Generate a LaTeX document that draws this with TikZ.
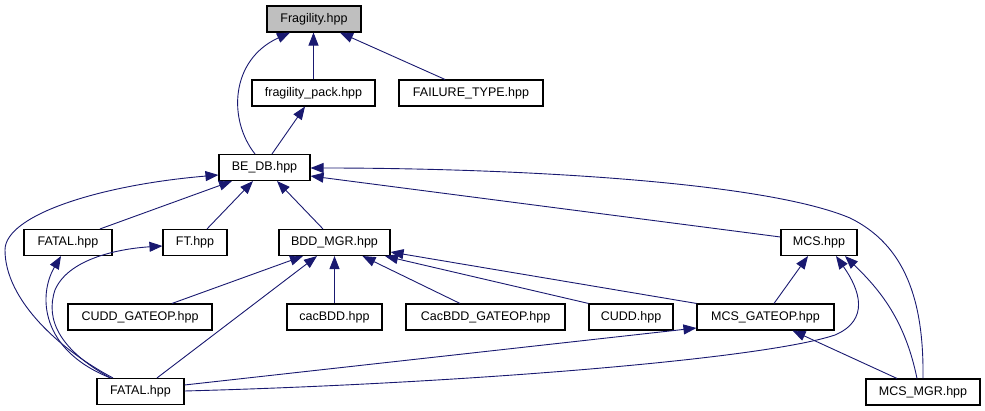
\documentclass[tikz,border=0pt]{standalone}
\usepackage{fontspec}
\setmainfont{Liberation Sans}
\usetikzlibrary{arrows.meta}

\definecolor{edgeblue}{RGB}{25,25,112}
\definecolor{rootgray}{RGB}{191,191,191}

\begin{document}
\begin{tikzpicture}[
    x=1pt, y=-1pt,
    every node/.style={font=\fontsize{12.5}{14}\selectfont},
    filebox/.style={
        rectangle, draw=black, line width=1.1pt, fill=white,
        minimum height=26pt, inner sep=0pt, anchor=center
    },
    dep/.style={
        draw=edgeblue, line width=0.9pt,
        -{Triangle[length=13pt,width=10pt,fill=edgeblue]}
    }
]
\useasboundingbox (0,0) rectangle (985,411);

%% ── Files ──────────────────────────────────────────────────────────
\node[filebox, fill=rootgray, minimum width=94pt] (frag) at (314,19) {Fragility.hpp};

\node[filebox, minimum width=123pt] (pack)     at (313.5,93) {fragility\_pack.hpp};
\node[filebox, minimum width=144pt] (failtype) at (471,93)   {FAILURE\_TYPE.hpp};

\node[filebox, minimum width=91pt] (bedb) at (264.5,167.5) {BE\_DB.hpp};

\node[filebox, minimum width=88pt]  (fatalA) at (68,242.5)  {FATAL.hpp};
\node[filebox, minimum width=64pt]  (ft)     at (195,242.5) {FT.hpp};
\node[filebox, minimum width=111pt] (bddmgr) at (334.5,242.5) {BDD\_MGR.hpp};
\node[filebox, minimum width=76pt]  (mcs)    at (819,242.5) {MCS.hpp};

\node[filebox, minimum width=144pt] (cuddgate) at (140,317)   {CUDD\_GATEOP.hpp};
\node[filebox, minimum width=95pt]  (cacbdd)   at (334.5,317) {cacBDD.hpp};
\node[filebox, minimum width=159pt] (cacgate)  at (485.5,317) {CacBDD\_GATEOP.hpp};
\node[filebox, minimum width=84pt]  (cudd)     at (631,317)   {CUDD.hpp};
\node[filebox, minimum width=137pt] (mcsgate)  at (765.5,317) {MCS\_GATEOP.hpp};

\node[filebox, minimum width=87pt]  (fatalB) at (140.5,391.5) {FATAL.hpp};
\node[filebox, minimum width=114pt] (mcsmgr) at (923,392)     {MCS\_MGR.hpp};

%% ── Include edges (arrow at the included file) ─────────────────────
%% Top level
\draw[dep] ([xshift=-9.5pt]bedb.north)
    .. controls (228,120) and (230,60) .. ([xshift=-24pt]frag.south);
\draw[dep] (pack.north) -- (pack.north |- frag.south);
\draw[dep] ([xshift=-26pt]failtype.north) -- ([xshift=26pt]frag.south);
\draw[dep] ([xshift=7.5pt]bedb.north) -- ([xshift=-8.5pt]pack.south);

%% Into BE_DB
\draw[dep] ([xshift=32pt]fatalA.north) -- ([xshift=-32.5pt]bedb.south);
\draw[dep] ([xshift=12pt]ft.north) -- ([xshift=-11.5pt]bedb.south);
\draw[dep] ([xshift=-11.5pt]bddmgr.north) -- ([xshift=12.5pt]bedb.south);
\draw[dep] ([yshift=5.5pt]mcs.west) -- ([yshift=-8.5pt]bedb.east);
\draw[dep] (mcsmgr.north)
    .. controls (924,300) and (905,245) .. (850,218)
    .. controls (760,180) and (500,168) .. ([yshift=-0.5pt]bedb.east);
\draw[dep] ([xshift=-27.5pt]fatalB.north)
    .. controls (60,350) and (5,300) .. (5,250)
    .. controls (5,215) and (100,185) .. ([yshift=-7.5pt]bedb.west);

%% FATAL.hpp (bottom) upwards
\draw[dep] ([xshift=-30pt]fatalB.north)
    .. controls (40,350) and (38,295) .. ([xshift=-7pt]fatalA.south);
\draw[dep] ([xshift=-30pt]fatalB.north)
    .. controls (60,350) and (45,320) .. (55,290)
    .. controls (70,255) and (130,248) .. ([yshift=-3.5pt]ft.west);
\draw[dep] ([xshift=16.5pt]fatalB.north) -- ([xshift=-17.5pt]bddmgr.south);
\draw[dep] ([yshift=6.5pt]fatalB.east) -- ([yshift=-11pt]mcsgate.west);
\draw[dep] ([yshift=0.5pt]fatalB.east)
    .. controls (450,384) and (760,360) .. (835,335)
    .. controls (870,320) and (860,290) .. ([xshift=17pt]mcs.south);

%% Into BDD_MGR
\draw[dep] ([xshift=32pt]cuddgate.north) -- ([xshift=-31.5pt]bddmgr.south);
\draw[dep] (cacbdd.north) -- (bddmgr.south);
\draw[dep] ([xshift=-25.5pt]cacgate.north) -- ([xshift=28pt]bddmgr.south);
\draw[dep] (cudd.north west) -- ([xshift=50.5pt]bddmgr.south);
\draw[dep] (mcsgate.north west) -- ([yshift=-9.5pt]bddmgr.east);

%% MCS side
\draw[dep] ([xshift=8.5pt]mcsgate.north) -- ([xshift=-11pt]mcs.south);
\draw[dep] ([xshift=-26pt]mcsmgr.north) -- ([xshift=27pt]mcsgate.south);
\draw[dep] ([xshift=-6pt]mcsmgr.north)
    .. controls (905,320) and (880,290) .. ([xshift=26pt]mcs.south);

\end{tikzpicture}
\end{document}
